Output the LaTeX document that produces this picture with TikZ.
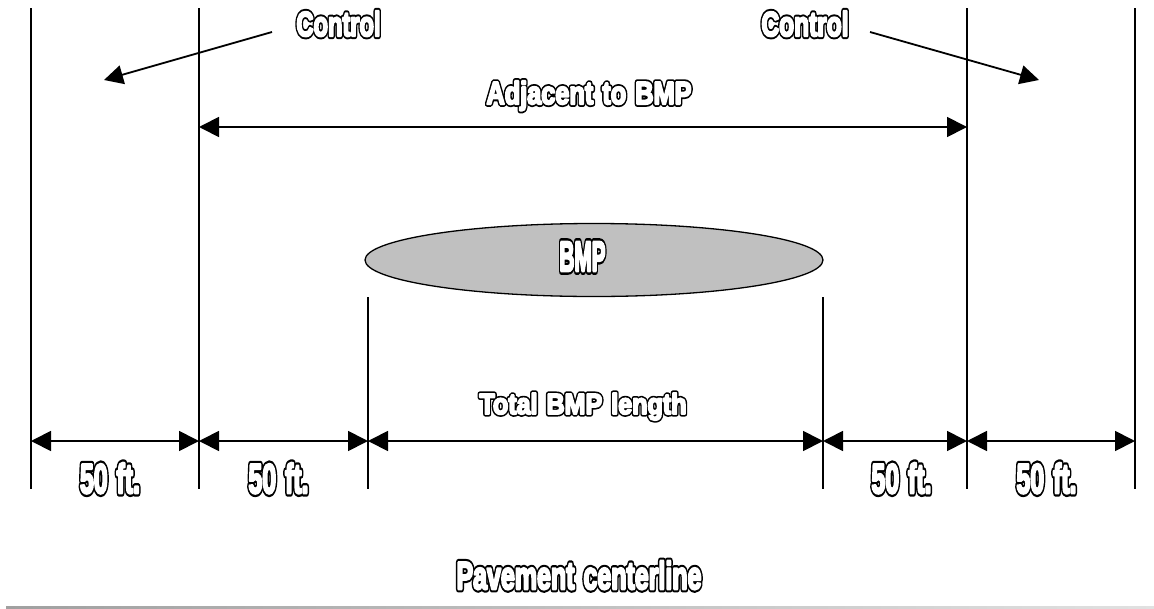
\documentclass[tikz,border=0pt]{standalone}
\usepackage{fontspec}
\setmainfont{Liberation Sans}
\usepackage{graphicx}
\usetikzlibrary{arrows.meta,shapes.geometric}
\definecolor{bmpgray}{RGB}{192,192,192}
\definecolor{baseA}{RGB}{160,160,160}
\definecolor{baseB}{RGB}{225,225,225}
% outlined heavy text: black wide stroke underneath, white fill + white stroke on top
\newcommand{\olab}[3]{\resizebox{#1}{#2}{\fontsize{30pt}{30pt}\selectfont\bfseries\spaceskip=0.36em
  \rlap{\special{pdf:literal direct 1 Tr 5.4 w 1 j 0 G}#3\special{pdf:literal direct 0 Tr}}%
  {\color{white}\special{pdf:literal direct 2 Tr 2 w 1 j 1 G 1 g}#3\special{pdf:literal direct 0 Tr 0 j}}}}
\tikzset{
  vline/.style={line width=1.8pt},
  tipA/.tip={Triangle[length=20pt,width=20pt]},
  tipB/.tip={Triangle[length=19pt,width=19pt]},
  dimline/.style={line width=1.8pt, tipA-tipA},
  ctrl/.style={line width=1.8pt, -tipB},
  lab/.style={inner sep=0pt, anchor=base},
}
\begin{document}
\begin{tikzpicture}[x=1pt,y=-1pt]
\useasboundingbox (0,0) rectangle (1154,608);
% vertical reference lines
\foreach \n/\x/\t in {a/31/8, b/199/8, c/368/297, d/823/297, e/967/8, f/1135/8}{
  \coordinate (\n t) at (\x,\t);
  \coordinate (\n b) at (\x,489);
  \coordinate (\n m) at (\x,441);
  \draw[vline] (\n t) -- (\n b);
}
% dimension arrows
\draw[dimline] (am) -- (bm);
\draw[dimline] (bm) -- (cm);
\draw[dimline] (cm) -- (dm);
\draw[dimline] (dm) -- (em);
\draw[dimline] (em) -- (fm);
% adjacent arrow
\coordinate (adjL) at (199,127);
\coordinate (adjR) at (967,127);
\draw[dimline] (adjL) -- (adjR);
% control arrows
\coordinate (cLs) at (272,32);
\coordinate (cLe) at (104,80);
\coordinate (cRs) at (870,32);
\coordinate (cRe) at (1039,80);
\draw[ctrl] (cLs) -- (cLe);
\draw[ctrl] (cRs) -- (cRe);
% BMP ellipse
\node[ellipse, draw, line width=1.3pt, fill=bmpgray, minimum width=458pt, minimum height=73pt, inner sep=0pt] (bmp) at (594,260) {};
% labels
\node[lab] (ctlL) at (338.5,36) {\olab{84pt}{25pt}{Control}};
\node[lab] (ctlR) at (805,36) {\olab{87pt}{25pt}{Control}};
\node[lab] (adj) at (589,104) {\olab{205pt}{23pt}{Adjacent to BMP}};
\node[lab] (bmpt) at (582.5,271) {\olab{46pt}{29pt}{BMP}};
\node[lab] (tot) at (583,414) {\olab{207pt}{21pt}{Total BMP length}};
\node[lab] (f1) at (110,493) {\olab{60pt}{30pt}{50 ft.}};
\node[lab] (f2) at (278.5,493) {\olab{60pt}{30pt}{50 ft.}};
\node[lab] (f3) at (901.5,493) {\olab{60pt}{30pt}{50 ft.}};
\node[lab] (f4) at (1046.5,493) {\olab{60pt}{30pt}{50 ft.}};
\node[lab] (pav) at (579,589) {\olab{245pt}{28pt}{Pavement centerline}};
% pavement centerline
\shade[left color=baseA, right color=baseB] (6,606) rectangle (1154,608);
\end{tikzpicture}
\end{document}
